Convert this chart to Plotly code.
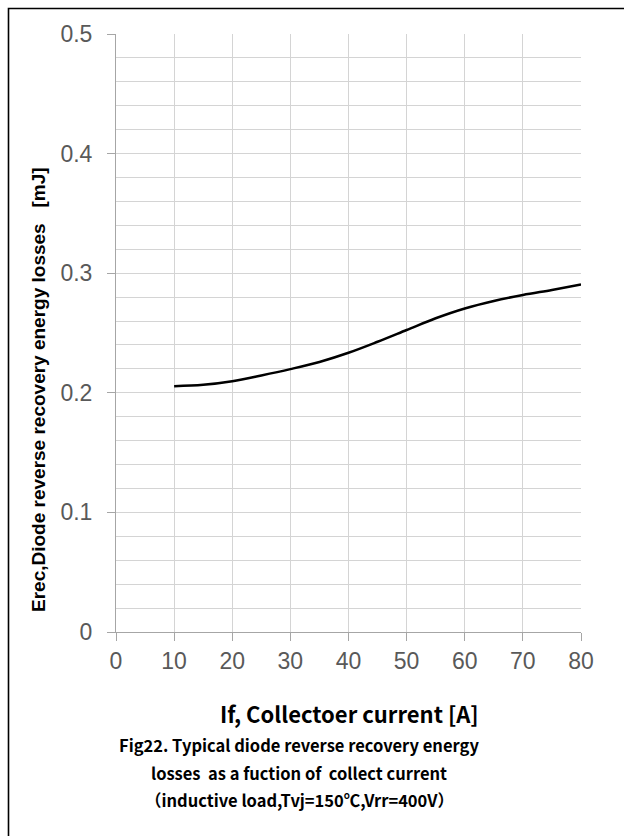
import plotly.graph_objects as go

# Diode reverse recovery energy vs forward current
current_a = [10, 15, 20, 25, 30, 35, 40, 45, 50, 55, 60, 65, 70, 75, 80]
erec_mj = [0.2055, 0.2067, 0.2097, 0.2145, 0.2198, 0.2258, 0.2335, 0.2427,
           0.2525, 0.2623, 0.2705, 0.2768, 0.2818, 0.2860, 0.2905]

x_title = "If, Collectoer current [A]"
y_title = "Erec,Diode reverse recovery energy losses   [mJ]"
caption_lines = [
    "Fig22. Typical diode reverse recovery energy",
    "losses  as a fuction of  collect current",
    "（inductive load,Tvj=150℃,Vrr=400V）",
]

W, H = 624, 836
ML, MR, MT, MB = 116, 43, 34, 204
PW, PH = W - ML - MR, H - MT - MB


def px_x(px):
    return (px - ML) / PW


def px_y(py):
    return (H - MB - py) / PH


fig = go.Figure()
fig.add_trace(go.Scatter(
    x=current_a, y=erec_mj, mode="lines",
    line=dict(color="black", width=2.5, shape="spline", smoothing=1.0),
    showlegend=False, hoverinfo="skip",
))

grid_c = "#d4d4d4"
axis_c = "#a6a6a6"
tick_font = dict(family="Liberation Sans, Arial, sans-serif", size=23, color="#595959")

fig.update_xaxes(
    range=[0, 80], dtick=10, tick0=0,
    showgrid=True, gridcolor=grid_c, gridwidth=1,
    showline=True, linecolor=axis_c, linewidth=1,
    ticks="outside", ticklen=8, tickcolor=axis_c, tickwidth=1,
    tickfont=tick_font, zeroline=False, fixedrange=True,
)
fig.update_yaxes(
    range=[0, 0.5], dtick=0.1, tick0=0,
    showgrid=True, gridcolor=grid_c, gridwidth=1,
    minor=dict(dtick=0.02, showgrid=True, gridcolor=grid_c, gridwidth=1),
    showline=True, linecolor=axis_c, linewidth=1,
    ticks="outside", ticklen=8, tickcolor=axis_c, tickwidth=1,
    tickfont=tick_font, zeroline=False, tickformat="~g",
    ticklabelstandoff=10, fixedrange=True,
)

annotations = [
    dict(text=f"<b>{x_title}</b>", x=px_x(349), y=px_y(713),
         font=dict(family="Noto Sans CJK SC", size=22, color="black")),
    dict(text=f"<b>{y_title}</b>", x=px_x(38), y=px_y(390), textangle=-90,
         font=dict(family="Liberation Sans, Arial, sans-serif", size=19, color="black")),
]
for line, py in zip(caption_lines, [745, 773, 800]):
    annotations.append(dict(text=f"<b>{line}</b>", x=px_x(299), y=px_y(py),
                            font=dict(family="Noto Sans CJK SC", size=16.5, color="black")))
for a in annotations:
    a.update(xref="paper", yref="paper", showarrow=False,
             xanchor="center", yanchor="middle")

fig.update_layout(
    width=W, height=H,
    margin=dict(l=ML, r=MR, t=MT, b=MB),
    paper_bgcolor="white", plot_bgcolor="white",
    annotations=annotations,
    shapes=[dict(type="rect", xref="paper", yref="paper",
                 x0=px_x(8.5), x1=px_x(640), y0=px_y(850), y1=px_y(8.5),
                 line=dict(color="black", width=1.6), layer="above")],
)

fig.write_html("out.html", config={"displayModeBar": False})
